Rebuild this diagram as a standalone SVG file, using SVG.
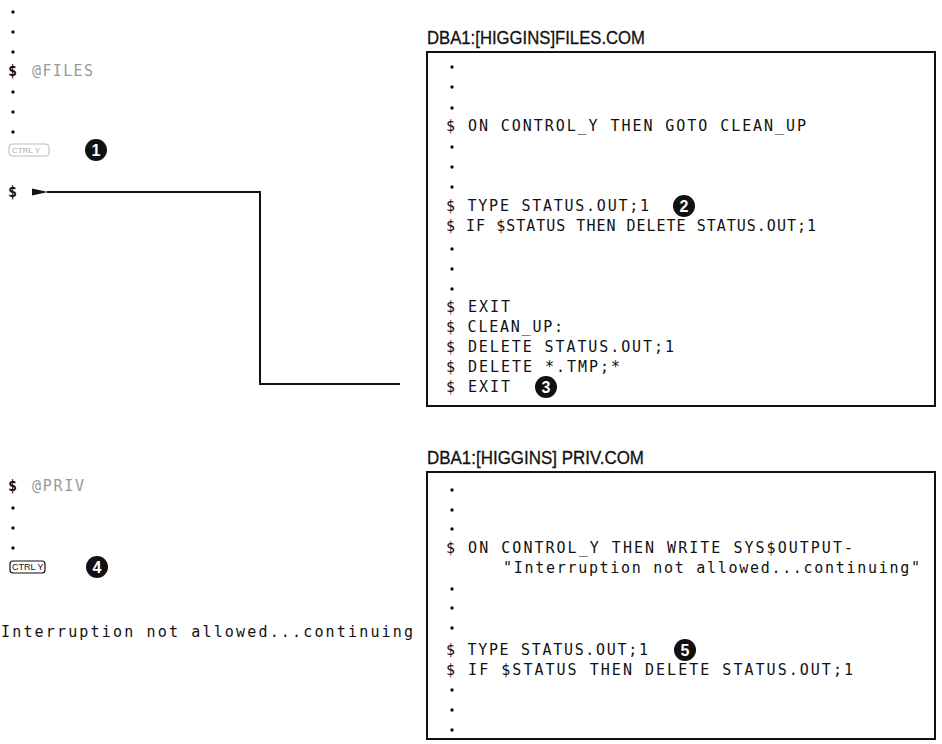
<svg xmlns="http://www.w3.org/2000/svg" width="942" height="744" viewBox="0 0 942 744">
<defs>
<style>
.t{font-family:"DejaVu Sans Mono","Liberation Mono",monospace;font-size:15px;fill:#111}
.d{font-family:"DejaVu Sans Mono","Liberation Mono",monospace;font-size:15px;font-weight:bold;fill:#111}
.faint{font-family:"DejaVu Sans Mono","Liberation Mono",monospace;font-size:15px;fill:#999}
.hdr{font-family:"Liberation Sans",Arial,sans-serif;font-size:18px;fill:#111;stroke:#111;stroke-width:0.3}
.box{fill:none;stroke:#111;stroke-width:2}
.dot{fill:#111}
.num{fill:#111}
.numt{font-family:"Liberation Sans",Arial,sans-serif;font-size:16px;font-weight:bold;fill:#fff;text-anchor:middle}
.conn{fill:none;stroke:#111;stroke-width:2}
.key{fill:none;stroke:#111;stroke-width:1.2}
.keyt{font-family:"Liberation Sans Narrow","Liberation Sans",Arial,sans-serif;font-size:9px;fill:#111}
</style>
<marker id="ah" viewBox="0 0 16 8" refX="1" refY="4" markerWidth="16" markerHeight="8" markerUnits="userSpaceOnUse" orient="auto">
<path d="M16,0.5 L0,4 L16,7.5 Z" fill="#111"/>
</marker>
</defs>
<rect width="942" height="744" fill="#fff"/>

<g id="terminal-files">
<circle class="dot" cx="13" cy="12" r="1.7"/>
<circle class="dot" cx="13" cy="32" r="1.7"/>
<circle class="dot" cx="13" cy="52" r="1.7"/>
<text class="d" x="8" y="76">$</text>
<text class="faint" x="32" y="76" textLength="61" lengthAdjust="spacing">@FILES</text>
<circle class="dot" cx="13" cy="92" r="1.7"/>
<circle class="dot" cx="13" cy="112" r="1.7"/>
<circle class="dot" cx="13" cy="132" r="1.7"/>
<rect x="9" y="144" width="40" height="12" rx="3" fill="none" stroke="#bbb" stroke-width="1"/>
<text x="12" y="153" style="font-family:'Liberation Sans',Arial,sans-serif;font-size:8px;fill:#aaa">CTRL Y</text>
<circle class="num" cx="96" cy="150" r="11"/>
<text class="numt" x="96" y="156">1</text>
<text class="d" x="8" y="197">$</text>
</g>

<g id="file-files-com">
<text class="hdr" x="427" y="44" textLength="218" lengthAdjust="spacingAndGlyphs">DBA1:[HIGGINS]FILES.COM</text>
<rect class="box" x="427" y="52" width="508" height="354"/>
<circle class="dot" cx="452" cy="67" r="1.7"/>
<circle class="dot" cx="452" cy="87" r="1.7"/>
<circle class="dot" cx="452" cy="108" r="1.7"/>
<text class="t" x="446" y="131" textLength="360" lengthAdjust="spacing">$ ON CONTROL_Y THEN GOTO CLEAN_UP</text>
<circle class="dot" cx="452" cy="147" r="1.7"/>
<circle class="dot" cx="452" cy="167" r="1.7"/>
<circle class="dot" cx="452" cy="187" r="1.7"/>
<text class="t" x="446" y="211" textLength="203" lengthAdjust="spacing">$ TYPE STATUS.OUT;1</text>
<circle class="num" cx="684" cy="206" r="11"/>
<text class="numt" x="684" y="212">2</text>
<text class="t" x="446" y="231" textLength="370" lengthAdjust="spacing">$ IF $STATUS THEN DELETE STATUS.OUT;1</text>
<circle class="dot" cx="452" cy="249" r="1.7"/>
<circle class="dot" cx="452" cy="269" r="1.7"/>
<circle class="dot" cx="452" cy="289" r="1.7"/>
<text class="t" x="446" y="312" textLength="64" lengthAdjust="spacing">$ EXIT</text>
<text class="t" x="446" y="332" textLength="117" lengthAdjust="spacing">$ CLEAN_UP:</text>
<text class="t" x="446" y="352" textLength="228" lengthAdjust="spacing">$ DELETE STATUS.OUT;1</text>
<text class="t" x="446" y="372" textLength="174" lengthAdjust="spacing">$ DELETE *.TMP;*</text>
<text class="t" x="446" y="392" textLength="64" lengthAdjust="spacing">$ EXIT</text>
<circle class="num" cx="546" cy="387" r="11"/>
<text class="numt" x="546" y="393">3</text>
</g>

<g id="terminal-priv">
<text class="d" x="8" y="491">$</text>
<text class="faint" x="32" y="491" textLength="52" lengthAdjust="spacing">@PRIV</text>
<circle class="dot" cx="13" cy="508" r="1.7"/>
<circle class="dot" cx="13" cy="528" r="1.7"/>
<circle class="dot" cx="13" cy="548" r="1.7"/>
<rect class="key" x="10" y="561" width="35" height="12" rx="3"/>
<text class="keyt" x="12" y="570">CTRL Y</text>
<circle class="num" cx="97" cy="567" r="11"/>
<text class="numt" x="97" y="573">4</text>
<text class="t" x="1" y="637" textLength="412" lengthAdjust="spacing">Interruption not allowed...continuing</text>
</g>

<g id="file-priv-com">
<text class="hdr" x="427" y="464" textLength="217" lengthAdjust="spacingAndGlyphs">DBA1:[HIGGINS] PRIV.COM</text>
<rect class="box" x="427" y="472" width="508" height="267"/>
<circle class="dot" cx="452" cy="490" r="1.7"/>
<circle class="dot" cx="452" cy="510" r="1.7"/>
<circle class="dot" cx="452" cy="529" r="1.7"/>
<text class="t" x="446" y="553" textLength="407" lengthAdjust="spacing">$ ON CONTROL_Y THEN WRITE SYS$OUTPUT-</text>
<text class="t" x="503" y="573" textLength="417" lengthAdjust="spacing">"Interruption not allowed...continuing"</text>
<circle class="dot" cx="452" cy="589" r="1.7"/>
<circle class="dot" cx="452" cy="608" r="1.7"/>
<circle class="dot" cx="452" cy="628" r="1.7"/>
<text class="t" x="446" y="655" textLength="202" lengthAdjust="spacing">$ TYPE STATUS.OUT;1</text>
<circle class="num" cx="685" cy="650" r="11"/>
<text class="numt" x="685" y="656">5</text>
<text class="t" x="446" y="675" textLength="407" lengthAdjust="spacing">$ IF $STATUS THEN DELETE STATUS.OUT;1</text>
<circle class="dot" cx="452" cy="690" r="1.7"/>
<circle class="dot" cx="452" cy="710" r="1.7"/>
<circle class="dot" cx="452" cy="730" r="1.7"/>
</g>

<g id="connectors">
<path class="conn" d="M400,384 H260 V192 H47" marker-end="url(#ah)"/>
</g>
</svg>
